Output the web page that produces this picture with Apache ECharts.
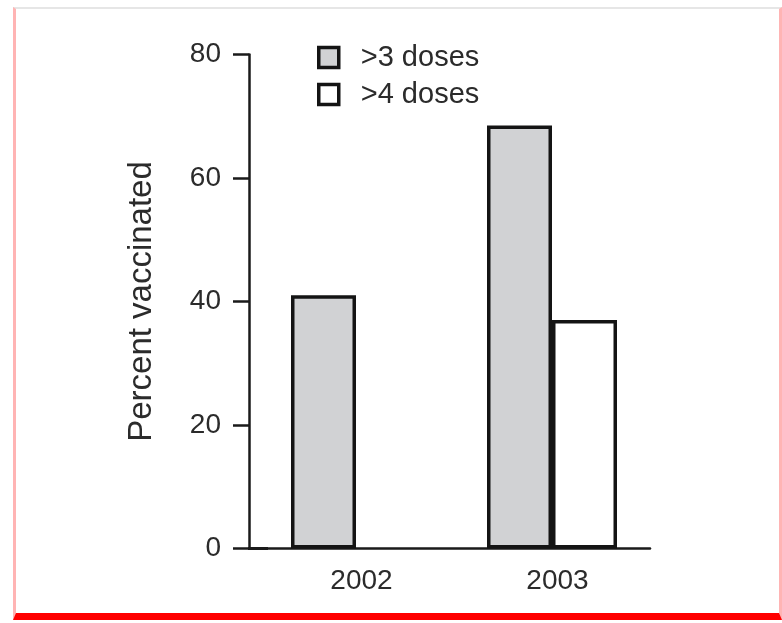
<!DOCTYPE html>
<html>
<head>
<meta charset="utf-8">
<script src="https://cdn.jsdelivr.net/npm/echarts@6/dist/echarts.min.js"></script>
<style>
  html, body { margin: 0; padding: 0; background: #fff; }
  #frame { position: absolute; left: 13px; top: 7px; width: 763px; height: 604px;
           border-top: 2px solid #e6e6e6; border-left: 3px solid #ffb4b4;
           border-right: 3px solid #ffb4b4; border-bottom: 7px solid #ff0000; }
  #chart { position: absolute; left: 0; top: 0; width: 782px; height: 623px; }
</style>
</head>
<body>
<div id="frame"></div>
<div id="chart"></div>
<script>
const categories = ['2002', '2003'];
const seriesNames = ['>3 doses', '>4 doses'];
const dose3 = [41, 68.5];
const dose4 = ['-', 37];
const yTicks = [0, 20, 40, 60, 80];

const FONT = '"Liberation Sans", Arial, sans-serif';
const chart = echarts.init(document.getElementById('chart'), null, { renderer: 'canvas' });
chart.setOption({
  backgroundColor: 'transparent',
  animation: false,
  textStyle: { fontFamily: FONT },
  grid: { left: 258, right: 132, top: 54.5, bottom: 74.5 },
  legend: {
    orient: 'vertical', left: 312, top: 38,
    icon: 'rect',
    itemWidth: 20, itemHeight: 20, itemGap: 8,
    itemStyle: { borderColor: '#141414', borderWidth: 3.5 },
    textStyle: { fontFamily: FONT, fontSize: 29, color: '#2b2b2b', padding: [0, 0, 0, 17] },
    data: seriesNames
  },
  xAxis: {
    type: 'category', data: categories,
    axisLine: { show: true, symbol: ['rect', 'none'], symbolSize: [3, 20],
                lineStyle: { color: '#1a1a1a', width: 2.5 } },
    axisTick: { show: false },
    axisLabel: { fontFamily: FONT, fontSize: 28, color: '#2b2b2b', margin: 19, padding: [0, 0, 0, 11] }
  },
  yAxis: {
    type: 'value', min: yTicks[0], max: yTicks[yTicks.length - 1], interval: 20, offset: 9,
    name: 'Percent vaccinated', nameLocation: 'middle', nameGap: 91, nameRotate: 90,
    nameTextStyle: { fontFamily: FONT, fontSize: 33, color: '#2b2b2b' },
    axisLine: { show: true, lineStyle: { color: '#1a1a1a', width: 2.5 } },
    axisTick: { show: true, length: 16, lineStyle: { color: '#1a1a1a', width: 2.5 } },
    axisLabel: { fontFamily: FONT, fontSize: 28, color: '#2b2b2b', margin: 28 },
    splitLine: { show: false }
  },
  series: [
    { name: seriesNames[0], type: 'bar', data: dose3, barWidth: 65, barGap: '0%',
      itemStyle: { color: '#d1d2d4', borderColor: '#141414', borderWidth: 3.5 } },
    { name: seriesNames[1], type: 'bar', data: dose4, barWidth: 65,
      itemStyle: { color: '#ffffff', borderColor: '#141414', borderWidth: 3.5 } }
  ]
});
</script>
</body>
</html>
